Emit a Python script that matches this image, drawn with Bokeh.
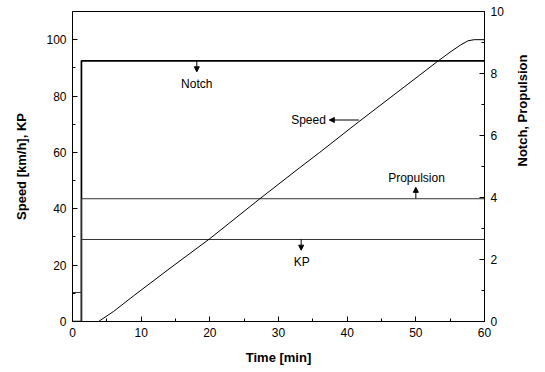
import math
from bokeh.plotting import figure
from bokeh.models import Range1d, LinearAxis, FixedTicker, Label, Arrow, NormalHead
from bokeh.embed import file_html
from bokeh.resources import INLINE

# ---- data ----
time_speed = [3.8, 6.0, 9.0, 14.2, 20.0, 27.2, 33.1, 36.0, 41.7, 50.6, 53.0, 55.0, 56.5, 57.6, 58.5, 60.0]
speed = [0.0, 3.6, 9.3, 18.9, 29.4, 43.4, 54.6, 60.0, 70.9, 87.5, 92.0, 95.6, 98.1, 99.6, 100.0, 100.0]

time_steps = [0.0, 1.3, 1.3, 60.0]
notch = [0.0, 0.0, 8.41, 8.41]          # right axis
propulsion = [0.0, 0.0, 3.96, 3.96]     # right axis

time_kp = [0.0, 0.0, 1.3, 1.3, 60.0]
kp = [0.0, 10.3, 10.3, 29.1, 29.1]      # left axis

x_ticks = [0, 10, 20, 30, 40, 50, 60]
x_minor = [5, 15, 25, 35, 45, 55]
left_ticks = [0, 20, 40, 60, 80, 100]
left_minor = [10, 30, 50, 70, 90]
right_ticks = [0, 2, 4, 6, 8, 10]
right_minor = [1, 3, 5, 7, 9]

FONT = "Liberation Sans"

p = figure(width=545, height=372, output_backend="svg", toolbar_location=None,
           x_range=Range1d(0, 60), y_range=Range1d(0, 110),
           min_border_left=72, min_border_right=61, min_border_top=11, min_border_bottom=51)
p.extra_y_ranges = {"right": Range1d(0, 10)}
p.xgrid.visible = False
p.ygrid.visible = False
p.outline_line_color = "black"
p.outline_line_width = 1
p.background_fill_color = "white"
p.border_fill_color = "white"

def style_axis(ax, ticks, minor, label):
    ax.ticker = FixedTicker(ticks=ticks, minor_ticks=minor)
    ax.axis_label = label
    ax.axis_line_color = "black"
    ax.major_tick_in = 5
    ax.major_tick_out = 0
    ax.minor_tick_in = 3
    ax.minor_tick_out = 0
    ax.major_tick_line_color = "black"
    ax.minor_tick_line_color = "black"
    ax.major_label_text_font = FONT
    ax.major_label_text_font_size = "12px"
    ax.major_label_text_color = "black"
    ax.major_label_standoff = 6
    ax.axis_label_text_font = FONT
    ax.axis_label_text_font_size = "13px"
    ax.axis_label_text_font_style = "bold"
    ax.axis_label_text_color = "black"

style_axis(p.xaxis[0], x_ticks, x_minor, "Time [min]")
p.xaxis[0].axis_label_standoff = 10
style_axis(p.yaxis[0], left_ticks, left_minor, "Speed [km/h], KP")
p.yaxis[0].axis_label_standoff = 14

right_axis = LinearAxis(y_range_name="right")
style_axis(right_axis, right_ticks, right_minor, "Notch, Propulsion")
right_axis.axis_label_standoff = 16
right_axis.axis_label_orientation = math.pi / 2
p.add_layout(right_axis, "right")

# ---- series ----
p.line(time_steps, notch, y_range_name="right", line_color="black", line_width=1.7)
p.line(time_steps, propulsion, y_range_name="right", line_color="#333333", line_width=1)
p.line(time_kp, kp, line_color="#333333", line_width=1)
p.line(time_speed, speed, line_color="black", line_width=1)

# ---- annotations ----
def add_label(x, y, text, align="center"):
    p.add_layout(Label(x=x, y=y, text=text, text_align=align, text_baseline="middle",
                       text_font=FONT, text_font_size="12px", text_color="black"))

def add_arrow(x0, y0, x1, y1):
    p.add_layout(Arrow(end=NormalHead(size=5, fill_color="black", line_color="black"),
                       x_start=x0, y_start=y0, x_end=x1, y_end=y1,
                       line_color="black", line_width=1))

add_label(18.1, 84.4, "Notch")
add_arrow(18.1, 92.4, 18.1, 88.6)

add_label(36.9, 71.5, "Speed", align="right")
add_arrow(41.7, 71.5, 37.4, 71.5)

add_label(50.1, 50.8, "Propulsion")
add_arrow(50.0, 43.6, 50.0, 47.6)

add_label(33.4, 21.0, "KP")
add_arrow(33.3, 29.1, 33.3, 25.3)

open("out.html", "w").write(file_html(p, INLINE))
